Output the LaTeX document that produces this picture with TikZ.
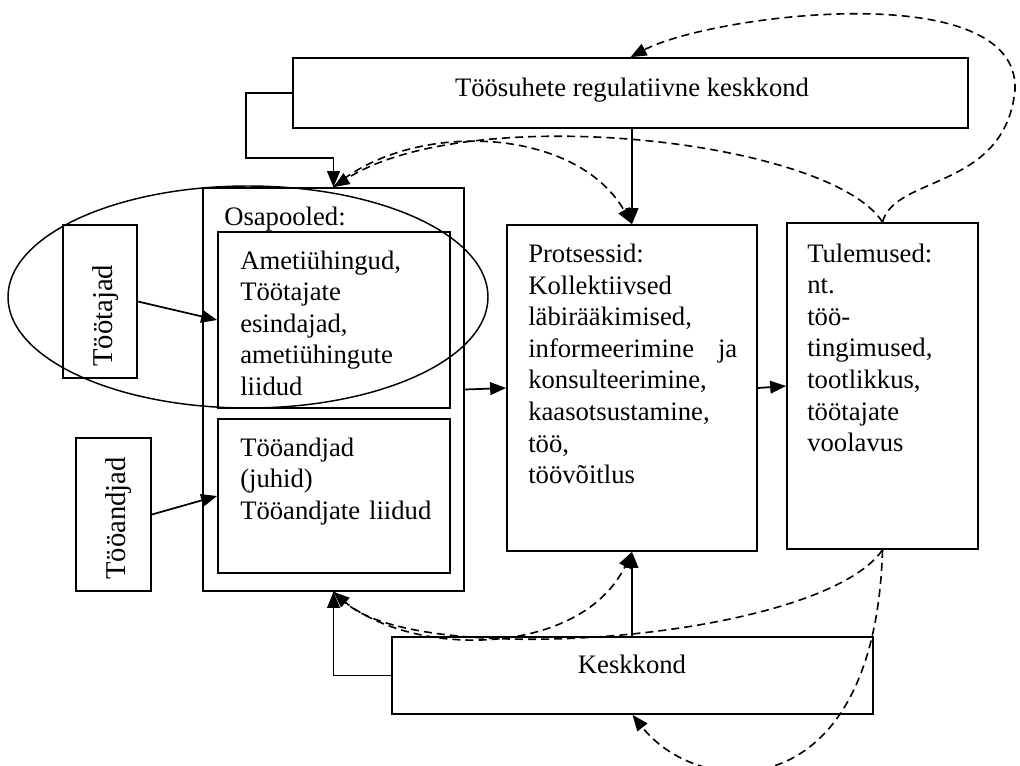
\documentclass[tikz,border=0pt]{standalone}
\usepackage{fontspec}
\setmainfont{Liberation Serif}
\usetikzlibrary{arrows.meta,shapes.geometric}

\begin{document}
\begin{tikzpicture}[x=0.75pt,y=-0.75pt,
  box/.style={draw,line width=1.3pt,inner sep=0pt,rectangle},
  txt/.style={inner sep=0pt,font=\fontsize{20}{23.7}\selectfont},
  vtxt/.style={inner sep=0pt,rotate=90,anchor=base west,font=\fontsize{21.5}{26}\selectfont},
  con/.style={line width=1.3pt,-{Triangle[length=12pt,width=9.5pt]}},
  dcon/.style={con,line width=1.2pt,dash pattern=on 6pt off 3.8pt},
]
\useasboundingbox (0,0) rectangle (1020,765);

% boxes
\node[box,minimum width=506.25pt,minimum height=52.5pt] (top) at (630.5,93) {};
\node[box,minimum width=195.75pt,minimum height=302.25pt] (osa) at (333.5,389.5) {};
\node[box,minimum width=174pt,minimum height=132pt] (in1) at (334,320) {};
\node[box,minimum width=174pt,minimum height=115.5pt] (in2) at (334,496) {};
\node[box,minimum width=187.5pt,minimum height=244.5pt] (proc) at (632,388) {};
\node[box,minimum width=143.25pt,minimum height=244.5pt] (tul) at (882.5,386) {};
\node[box,minimum width=360.75pt,minimum height=57.75pt] (kesk) at (632.5,675.5) {};
\node[box,minimum width=55.5pt,minimum height=114.75pt] (tjad) at (100,301.5) {};
\node[box,minimum width=56.25pt,minimum height=114.75pt] (tand) at (113.5,514.5) {};
\node[draw,ellipse,line width=1.1pt,inner sep=0pt,minimum width=360pt,minimum height=166.5pt] (grp) at (248,297) {};

% texts
\node[txt,anchor=base] (ttop) at (632,96) {Töösuhete regulatiivne keskkond};
\node[txt,anchor=base] (tkesk) at (632,673) {Keskkond};
\node[txt,anchor=base west] (tosa) at (224,225) {Osapooled:};
\node[txt,anchor=base west,align=left,text width=165pt] (tin1) at (240,269)
  {Ametiühingud,\\Töötajate\\esindajad,\\ametiühingute\\liidud};
\node[txt,anchor=base west,align=left,text width=165pt] (tin2) at (240,456)
  {Tööandjad\\(juhid)\\Tööandjate liidud};
\node[txt,anchor=base west,align=left,text width=156.75pt] (tproc) at (528,262.5)
  {Protsessid:\\Kollektiivsed\\läbirääkimised,\\informeerimine\hfill ja\\konsulteerimine,\\kaasotsustamine,\\töö,\\töövõitlus};
\node[txt,anchor=base west,align=left,text width=130pt] (ttul) at (807,262)
  {Tulemused:\\nt.\\töö-\\tingimused,\\tootlikkus,\\töötajate\\voolavus};
\node[vtxt] (ttjad) at (112,367) {Töötajad};
\node[vtxt] (ttand) at (125,580) {Tööandjad};

% solid connectors
\coordinate (bendT) at (246,158);
\draw[con] (top.west) -| (bendT) -| (osa.north);
\draw[con] (kesk.west) -| (osa.south);
\draw[con] (proc.north |- top.south) -- (proc.north);
\draw[con] (proc.south |- kesk.north) -- (proc.south);
\draw[con] (tjad.east) -- (in1.west);
\draw[con] (tand.east) -- (in2.west);
\draw[con] (osa.east) -- (proc.west);
\draw[con] (proc.east) -- (tul.west);

% dashed feedback loops
\draw[dcon] (tul.north) .. controls (895,175) and (1005,190) .. (1015,90)
  .. controls (1020,-25) and (710,15) .. (top.north);
\draw[dcon] (tul.north) .. controls (830,140) and (470,100) .. (osa.north);
\draw[dcon] (osa.north) .. controls (410,120) and (575,125) .. (proc.north);
\draw[dcon] (tul.south) .. controls (820,640) and (420,670) .. (osa.south);
\draw[dcon] (osa.south) .. controls (400,660) and (580,660) .. (proc.south);
\draw[dcon] (tul.south) .. controls (875,810) and (700,800) .. (kesk.south);
\end{tikzpicture}
\end{document}
